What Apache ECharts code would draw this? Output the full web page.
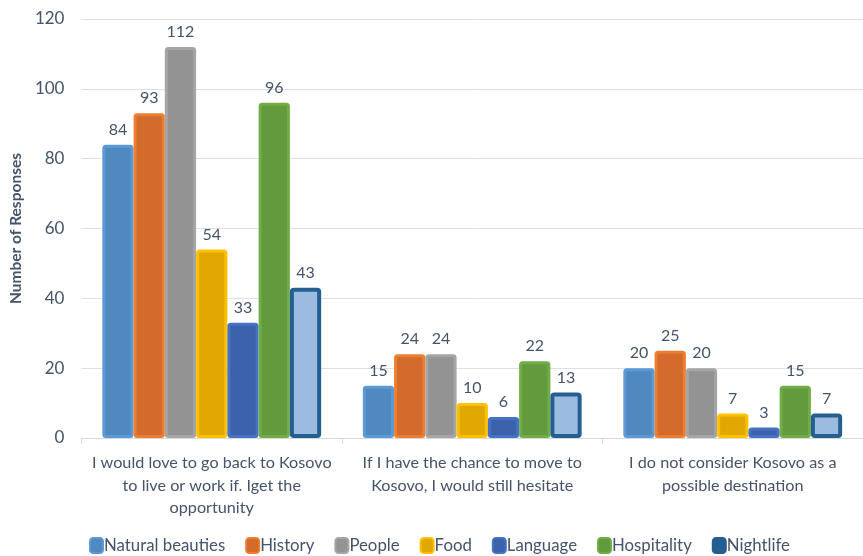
<!DOCTYPE html>
<html><head><meta charset="utf-8">
<script src="https://cdn.jsdelivr.net/npm/echarts@6/dist/echarts.min.js"></script>
<style>html,body{margin:0;padding:0;background:#fff}#c{width:863px;height:556px}</style>
</head><body><div id="c"></div>
<script>
const categories = ["I would love to go back to Kosovo\nto live or work if. Iget the\nopportunity", "If I have the chance to move to\nKosovo, I would still hesitate", "I do not consider Kosovo as a\npossible destination"];
const seriesNames = ["Natural beauties", "History", "People", "Food", "Language", "Hospitality", "Nightlife"];
const naturalBeauties = [84, 15, 20];
const history = [93, 24, 25];
const people = [112, 24, 20];
const food = [54, 10, 7];
const language = [33, 6, 3];
const hospitality = [96, 22, 15];
const nightlife = [43, 13, 7];
const yTicks = [0, 20, 40, 60, 80, 100, 120];

const values = [naturalBeauties, history, people, food, language, hospitality, nightlife];
const fills = ["#4f89bf", "#d26b2b", "#939393", "#e0a800", "#3d62ac", "#629a3d", "#9bbbe0"];
const borders = ["#5b9bd5", "#ed7d31", "#a5a5a5", "#ffc000", "#4472c4", "#70ad47", "#255e91"];
const font = "Lato, 'Open Sans', sans-serif";
const textColor = "#44546a";

const chart = echarts.init(document.getElementById('c'), null, {renderer: 'canvas'});
chart.setOption({
  animation: false,
  grid: {left: 75, top: 19, width: 798, height: 419, containLabel: false},
  legend: {
    bottom: -3, left: 84, itemWidth: 13, itemHeight: 15, itemGap: 20,
    icon: 'roundRect',
    textStyle: {fontFamily: font, fontSize: 16.8, color: textColor, padding: [0, 0, 0, -4]},
    data: seriesNames.map((n, i) => ({name: n, itemStyle: {color: i === 6 ? borders[i] : fills[i], borderColor: borders[i], borderWidth: 2}}))
  },
  xAxis: {
    type: 'category', data: categories,
    axisLine: {lineStyle: {color: '#d9d9d9', width: 1}},
    axisTick: {show: true, length: 6, lineStyle: {color: '#d9d9d9'}},
    axisLabel: {fontFamily: font, fontSize: 16.2, color: textColor, lineHeight: 22.5, margin: 14, interval: 0}
  },
  yAxis: {
    type: 'value', min: 0, max: 120, interval: 20,
    name: 'Number of Responses', nameLocation: 'middle', nameGap: 57, nameRotate: 90,
    nameTextStyle: {fontFamily: font, fontSize: 15.5, fontWeight: 'bold', color: textColor},
    axisLine: {show: false}, axisTick: {show: false},
    axisLabel: {fontFamily: font, fontSize: 17, color: textColor, margin: 17,
      formatter: v => yTicks.includes(v) ? String(v) : ''},
    splitLine: {lineStyle: {color: '#dde1e6', width: 1}}
  },
  series: seriesNames.map((n, i) => ({
    name: n, type: 'bar', data: values[i],
    barGap: '0%', barCategoryGap: '16%',
    itemStyle: {color: fills[i], borderColor: borders[i], borderWidth: i === 6 ? 4 : 3, borderRadius: 2},
    label: {show: true, position: 'top', distance: 7, fontFamily: font, fontSize: 16, color: textColor}
  }))
});
</script></body></html>
